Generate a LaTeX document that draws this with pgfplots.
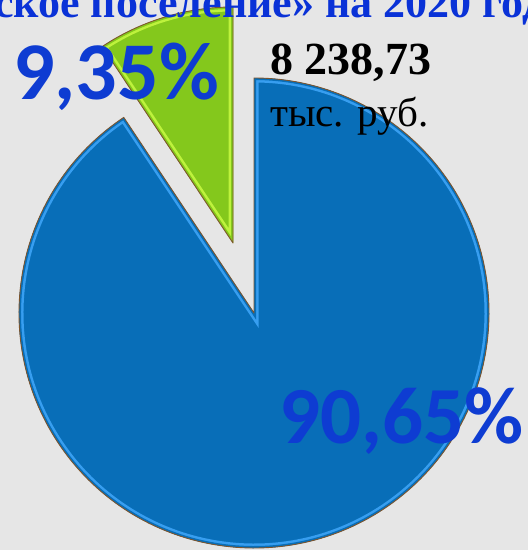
\documentclass[border=0pt]{standalone}
\usepackage{pgfplots}
\usepackage{pgfplotstable}
\pgfplotsset{compat=1.18}
\usepackage{fontspec}
\setmainfont{Liberation Serif}
\newfontfamily\calib{Carlito}

\definecolor{bg}{RGB}{230,230,230}
\definecolor{pieblue}{RGB}{8,110,184}
\definecolor{blueedge}{RGB}{55,158,240}
\definecolor{piegreen}{RGB}{132,200,28}
\definecolor{greenedge}{RGB}{190,242,60}
\definecolor{rim}{RGB}{125,85,45}
\definecolor{lblblue}{RGB}{14,60,210}
\definecolor{ttlblue}{RGB}{10,50,215}

% доли, %
\pgfplotstableread{
part  share
green 9.35
blue  90.65
}\shares

\pgfplotstablegetelem{0}{share}\of\shares
\let\sgreen\pgfplotsretval
\pgfmathsetmacro{\agreen}{90+3.6*\sgreen}

% сектор: центр x, центр y, радиус, начальный угол, конечный угол
\newcommand\sector[5]{%
  (axis cs:#1,#2) -- (axis cs:{#1+#3*cos(#4)},{#2+#3*sin(#4)})
  arc[start angle=#4, end angle=#5, radius=#3] -- cycle}

\newcommand\bevel[7]{%
  \begin{scope}
    \clip \sector{#1}{#2}{#3}{#4}{#5};
    \fill[#6] \sector{#1}{#2}{#3}{#4}{#5};
    \draw[#7, line width=9pt] \sector{#1}{#2}{#3}{#4}{#5};
    \draw[#6, line width=4pt] \sector{#1}{#2}{#3}{#4}{#5};
  \end{scope}
  \draw[rim, line width=0.9pt, line join=round] \sector{#1}{#2}{#3}{#4}{#5};}

\begin{document}
\begin{tikzpicture}
\path[use as bounding box] (0,0) rectangle (528pt,550pt);
\clip (0,0) rectangle (528pt,550pt);
\fill[bg] (0,0) rectangle (528pt,550pt);
\begin{axis}[
    at={(0,0)}, anchor=south west,
    scale only axis, width=528pt, height=550pt,
    xmin=0, xmax=528, ymin=0, ymax=550,
    enlargelimits=false, hide axis, clip=false
]
    % синий сектор (90,65%)
    \bevel{254}{237}{235}{\agreen}{450}{pieblue}{blueedge}
    % зелёный сектор (9,35%), выдвинут
    \bevel{233}{307}{236}{90}{\agreen}{piegreen}{greenedge}

    \node[anchor=base west, inner sep=0, text=ttlblue,
          font=\fontsize{44}{44}\selectfont\bfseries]
        at (axis cs:-6,532) {ское поселение» на 2020 год};
    \node[anchor=base west, inner sep=0,
          font=\fontsize{46}{46}\selectfont\bfseries]
        at (axis cs:270,475) {8 238,73};
    \node[anchor=base west, inner sep=0,
          font=\fontsize{41}{41}\selectfont]
        at (axis cs:270,423) {тыс. руб.};
    \node[anchor=base west, inner sep=0, text=lblblue,
          font=\fontsize{82}{82}\selectfont\calib\bfseries]
        at (axis cs:13,450) {9,35\%};
    \node[anchor=base west, inner sep=0, text=lblblue,
          font=\fontsize{81}{81}\selectfont\calib\bfseries]
        at (axis cs:279,107) {90,65\%};
\end{axis}
\end{tikzpicture}
\end{document}
